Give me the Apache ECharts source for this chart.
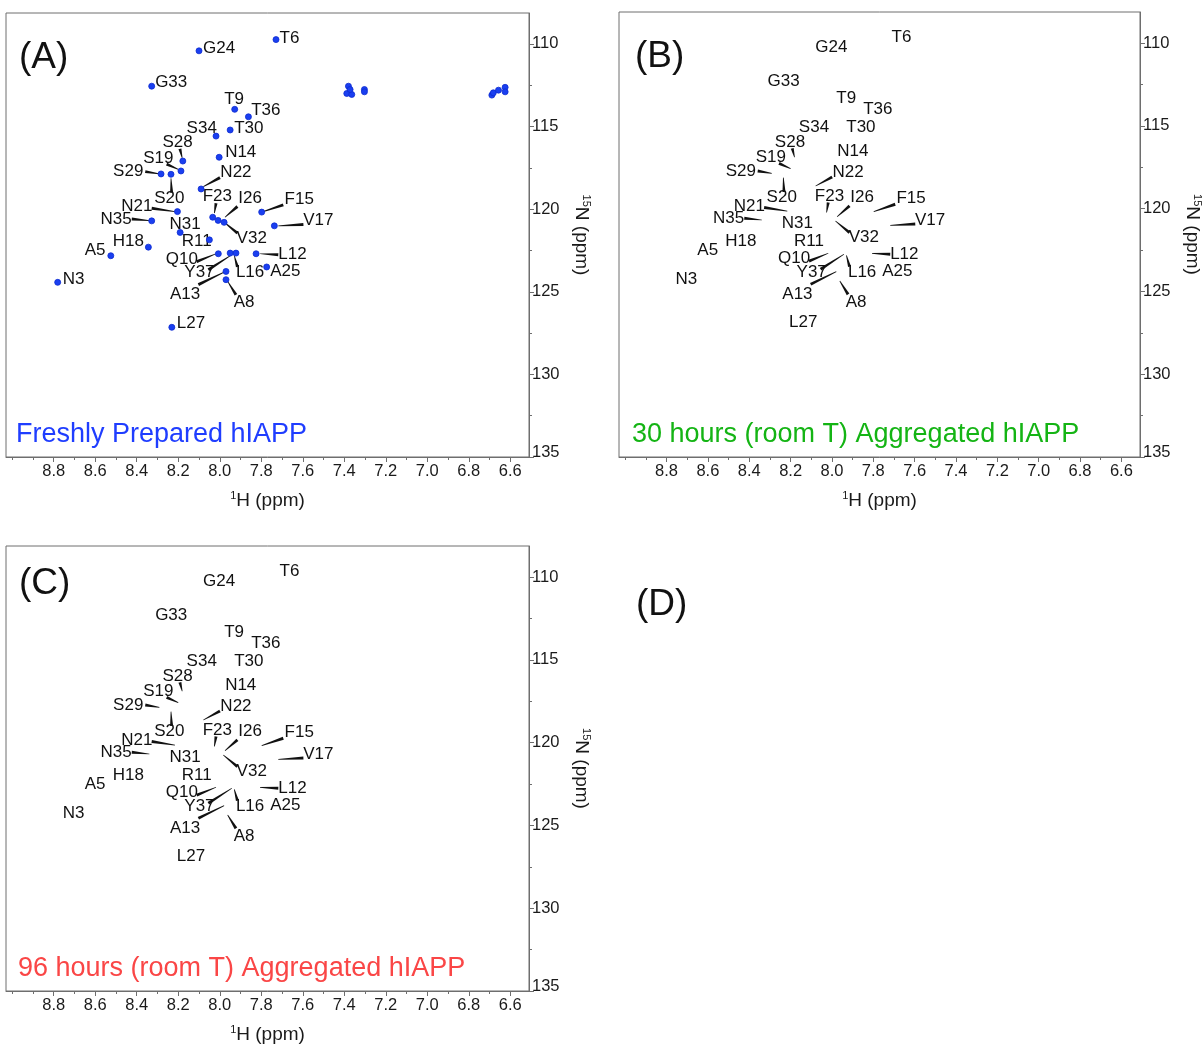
<!DOCTYPE html>
<html>
<head>
<meta charset="utf-8">
<title>hIAPP 1H-15N HSQC</title>
<script src="https://cdn.jsdelivr.net/npm/echarts@6/dist/echarts.min.js"></script>
<style>
html, body { margin: 0; padding: 0; background: #fff; }
#main { width: 1204px; height: 1047px; }
</style>
</head>
<body>
<div id="main"></div>
<script>
// Backbone amide assignments: 1H / 15N shifts (ppm) of each cross peak
const residues = ['N3','A5','T6','A8','T9','Q10','R11','L12','A13','N14','F15','L16','V17','H18','S19','S20','N21','N22','F23','G24','A25','I26','L27','S28','S29','T30','N31','V32','G33','S34','N35','T36','Y37'];
const peakH = [8.781, 8.525, 7.729, 7.970, 7.928, 8.007, 8.050, 7.825, 7.970, 8.003, 7.798, 7.922, 7.737, 8.344, 8.187, 8.235, 8.204, 8.090, 8.034, 8.100, 7.774, 8.008, 8.231, 8.178, 8.283, 7.950, 8.191, 7.979, 8.328, 8.018, 8.328, 7.862, 7.950];
const peakN = [124.43, 122.82, 109.74, 124.27, 113.96, 122.70, 121.86, 122.70, 123.77, 116.86, 120.18, 122.66, 121.01, 122.30, 117.69, 117.89, 120.15, 118.78, 120.49, 110.42, 123.50, 120.68, 127.15, 117.09, 117.87, 115.21, 121.41, 120.80, 112.56, 115.58, 120.71, 114.41, 122.66];

// Where each assignment label sits (ppm)
const labelH = [8.704, 8.601, 7.664, 7.883, 7.931, 8.183, 8.111, 7.650, 8.167, 7.899, 7.617, 7.854, 7.525, 8.441, 8.296, 8.243, 8.400, 7.922, 8.012, 8.003, 7.684, 7.854, 8.139, 8.203, 8.441, 7.860, 8.167, 7.846, 8.234, 8.087, 8.500, 7.778, 8.098];
const labelN = [124.27, 122.50, 109.64, 125.64, 113.36, 123.01, 121.96, 122.76, 125.18, 116.54, 119.40, 123.83, 120.69, 121.96, 116.92, 119.34, 119.84, 117.79, 119.24, 110.26, 123.77, 119.34, 126.89, 115.98, 117.73, 115.09, 120.89, 121.75, 112.31, 115.11, 120.61, 114.01, 123.83];

// Leader lines from a crowded peak out to its label (ppm)
const leaderResidues = ['S28','S19','S29','S20','N22','F23','I26','F15','V17','N21','N35','V32','Q10','L16','Y37','L12','A13','A8'];
const leaderFromH = [8.181, 8.200, 8.291, 8.235, 8.079, 8.026, 7.975, 7.798, 7.718, 8.216, 8.339, 7.983, 8.018, 7.930, 7.942, 7.806, 7.979, 7.962];
const leaderFromN = [116.90, 117.59, 117.87, 118.13, 118.64, 120.24, 120.49, 120.18, 121.01, 120.15, 120.69, 120.75, 122.70, 122.82, 122.76, 122.70, 123.81, 124.37];
const leaderToH = [8.192, 8.256, 8.359, 8.232, 7.999, 8.018, 7.915, 7.694, 7.597, 8.328, 8.424, 7.915, 8.111, 7.915, 8.055, 7.718, 8.103, 7.922];
const leaderToN = [116.36, 117.27, 117.73, 119.00, 118.09, 119.64, 119.84, 119.74, 120.93, 119.94, 120.59, 121.45, 123.17, 123.50, 123.67, 122.76, 124.57, 125.18];

// Unassigned side-chain NH2 peaks (Asn / Gln)
const sideChainH = [7.380, 7.388, 7.364, 7.372, 7.303, 7.303, 6.689, 6.682, 6.657, 6.625, 6.625];
const sideChainN = [112.56, 113.00, 113.06, 112.76, 112.76, 112.90, 113.10, 112.96, 112.80, 112.63, 112.90];

// Axis ticks
const xTickLabels = ['8.8','8.6','8.4','8.2','8.0','7.8','7.6','7.4','7.2','7.0','6.8','6.6'];
const xMinorTicks = [9.0, 8.9, 8.7, 8.5, 8.3, 8.1, 7.9, 7.7, 7.5, 7.3, 7.1, 6.9, 6.7];
const yTickLabels = [110, 115, 120, 125, 130, 135];
const yMinorTicks = [112.5, 117.5, 122.5, 127.5, 132.5];

const H_MIN = 6.51, H_MAX = 9.03;
const N_MIN = 108.13, N_MAX = 135;

const FONT = '"Liberation Sans", Arial, Helvetica, sans-serif';
const AXIS_COLOR = '#6e6e6e';
const TEXT_COLOR = '#1a1a1a';
const PEAK_COLOR = '#1a3ff0';

const panels = [
  { tag: '(A)', caption: 'Freshly Prepared hIAPP', captionColor: '#1f3dff', peaks: true,
    grid: { left: 6, top: 13, width: 523, height: 444 }, tagPos: [19, 58], captionPos: [16, 435] },
  { tag: '(B)', caption: '30 hours (room T) Aggregated hIAPP', captionColor: '#14b414', peaks: false,
    grid: { left: 619, top: 12, width: 524, height: 445 }, tagPos: [635, 57], captionPos: [632, 435] },
  { tag: '(C)', caption: '96 hours (room T) Aggregated hIAPP', captionColor: '#fa4646', peaks: false,
    grid: { left: 6, top: 546, width: 523, height: 445 }, tagPos: [19, 584], captionPos: [18, 969] }
];

const xTickValues = xTickLabels.map(Number);
const yLastTick = yTickLabels[yTickLabels.length - 1];

const nameRich = {
  s: { fontSize: 11, fontFamily: FONT, color: TEXT_COLOR, verticalAlign: 'top', lineHeight: 10 },
  b: { fontSize: 19, fontFamily: FONT, color: TEXT_COLOR, verticalAlign: 'middle', lineHeight: 22 }
};

const grids = [];
const xAxes = [];
const yAxes = [];
const series = [];
const graphics = [];

panels.forEach((p, g) => {
  grids.push(Object.assign({ show: true, borderColor: AXIS_COLOR, borderWidth: 1 }, p.grid));

  // major ticks + labels + title
  xAxes.push({
    type: 'value', gridIndex: g, inverse: true, min: H_MIN, max: H_MAX, position: 'bottom',
    axisLine: { show: true, onZero: false, lineStyle: { color: AXIS_COLOR, width: 1 } },
    axisTick: { show: true, inside: false, length: 5, customValues: xTickValues, lineStyle: { color: AXIS_COLOR } },
    axisLabel: { show: true, customValues: xTickValues, formatter: v => v.toFixed(1), margin: 6,
      fontSize: 16.5, fontFamily: FONT, color: TEXT_COLOR },
    splitLine: { show: false },
    name: '{s|1}{b|H (ppm)}', nameLocation: 'middle', nameGap: 33,
    nameTextStyle: { fontSize: 19, fontFamily: FONT, color: TEXT_COLOR, rich: nameRich }
  });
  // minor ticks
  xAxes.push({
    type: 'value', gridIndex: g, inverse: true, min: H_MIN, max: H_MAX, position: 'bottom',
    axisLine: { show: false, onZero: false },
    axisTick: { show: true, inside: false, length: 3, customValues: xMinorTicks, lineStyle: { color: AXIS_COLOR } },
    axisLabel: { show: false }, splitLine: { show: false }
  });

  yAxes.push({
    type: 'value', gridIndex: g, inverse: true, min: N_MIN, max: N_MAX, position: 'right',
    axisLine: { show: true, onZero: false, lineStyle: { color: AXIS_COLOR, width: 1 } },
    axisTick: { show: true, inside: false, length: 5, customValues: yTickLabels, lineStyle: { color: AXIS_COLOR } },
    axisLabel: { show: true, customValues: yTickLabels, margin: 3,
      formatter: v => (v === yLastTick ? '{u|' + v + '}' : String(v)),
      rich: { u: { fontSize: 16.5, fontFamily: FONT, color: TEXT_COLOR, padding: [0, 0, 10, 0] } },
      fontSize: 16.5, fontFamily: FONT, color: TEXT_COLOR },
    splitLine: { show: false },
    name: '{s|15}{b|N (ppm)}', nameLocation: 'middle', nameGap: 41, nameRotate: -90,
    nameTextStyle: { fontSize: 19, fontFamily: FONT, color: TEXT_COLOR, rich: nameRich }
  });
  yAxes.push({
    type: 'value', gridIndex: g, inverse: true, min: N_MIN, max: N_MAX, position: 'right',
    axisLine: { show: false, onZero: false },
    axisTick: { show: true, inside: false, length: 3, customValues: yMinorTicks, lineStyle: { color: AXIS_COLOR } },
    axisLabel: { show: false }, splitLine: { show: false }
  });

  const xi = 2 * g, yi = 2 * g;

  if (p.peaks) {
    const peakStyle = { color: PEAK_COLOR, opacity: 1, borderColor: '#0d2bd0', borderWidth: 0.8 };
    series.push({
      type: 'scatter', name: 'backbone', xAxisIndex: xi, yAxisIndex: yi, silent: true,
      symbol: 'circle', symbolSize: 6, itemStyle: peakStyle,
      data: peakH.map((h, i) => [h, peakN[i]])
    });
    series.push({
      type: 'scatter', name: 'side chain', xAxisIndex: xi, yAxisIndex: yi, silent: true,
      symbol: 'circle', symbolSize: 6, itemStyle: peakStyle,
      data: sideChainH.map((h, i) => [h, sideChainN[i]])
    });
  }

  // tapered leader lines, thin at the peak and wider at the label
  series.push({
    type: 'custom', name: 'leaders', xAxisIndex: xi, yAxisIndex: yi, silent: true,
    data: leaderResidues.map((r, i) => [leaderFromH[i], leaderFromN[i], leaderToH[i], leaderToN[i]]),
    encode: { x: [0, 2], y: [1, 3] },
    renderItem: (params, api) => {
      const a = api.coord([api.value(0), api.value(1)]);
      const b = api.coord([api.value(2), api.value(3)]);
      const dx = b[0] - a[0], dy = b[1] - a[1];
      const len = Math.hypot(dx, dy) || 1;
      const nx = -dy / len, ny = dx / len;
      const w0 = 0.35, w1 = 1.5;
      return {
        type: 'polygon',
        shape: { points: [
          [a[0] + nx * w0, a[1] + ny * w0],
          [b[0] + nx * w1, b[1] + ny * w1],
          [b[0] - nx * w1, b[1] - ny * w1],
          [a[0] - nx * w0, a[1] - ny * w0]
        ] },
        style: { fill: '#111' }
      };
    }
  });

  // residue labels
  series.push({
    type: 'custom', name: 'assignments', xAxisIndex: xi, yAxisIndex: yi, silent: true,
    data: residues.map((r, i) => [labelH[i], labelN[i]]),
    renderItem: (params, api) => {
      const c = api.coord([api.value(0), api.value(1)]);
      return {
        type: 'text', x: c[0], y: c[1],
        style: { text: residues[params.dataIndex], fontSize: 17, fontFamily: FONT, fill: '#111',
          align: 'center', verticalAlign: 'middle' }
      };
    }
  });

  graphics.push({ type: 'text', x: p.tagPos[0], y: p.tagPos[1], silent: true,
    style: { text: p.tag, fontSize: 37, fontFamily: FONT, fill: '#111', verticalAlign: 'middle' } });
  graphics.push({ type: 'text', x: p.captionPos[0], y: p.captionPos[1], silent: true,
    style: { text: p.caption, fontSize: 27, fontFamily: FONT, fill: p.captionColor, verticalAlign: 'middle' } });
});

// empty fourth panel
graphics.push({ type: 'text', x: 636, y: 605, silent: true,
  style: { text: '(D)', fontSize: 37, fontFamily: FONT, fill: '#111', verticalAlign: 'middle' } });

const chart = echarts.init(document.getElementById('main'), null, { renderer: 'canvas' });
chart.setOption({
  backgroundColor: '#ffffff',
  animation: false,
  grid: grids,
  xAxis: xAxes,
  yAxis: yAxes,
  series: series,
  graphic: graphics
});
</script>
</body>
</html>
